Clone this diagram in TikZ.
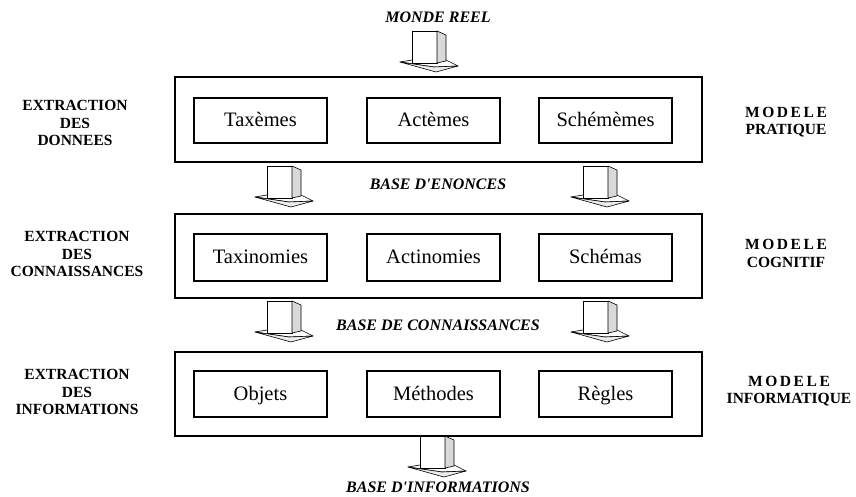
\documentclass[tikz,border=0pt]{standalone}
\usepackage{fontspec}
\setmainfont{Liberation Serif}
\begin{document}
\begin{tikzpicture}[x=1pt,y=-1pt,
  outerbox/.style={draw, line width=1.8pt, minimum width=527pt, inner sep=0pt},
  innerbox/.style={draw, line width=1.8pt, minimum width=133pt, inner sep=0pt, text height=16pt, text depth=4pt, font=\fontsize{20.5}{24}\selectfont},
  sidelabel/.style={align=center, inner sep=0pt, font=\bfseries\fontsize{15.5}{17.5}\selectfont},
  baselabel/.style={inner sep=0pt, font=\bfseries\itshape\fontsize{16}{19}\selectfont},
  fatarrow/.pic={
    \filldraw[fill=white, line width=0.6pt, line join=round] (-12,31) -- (0,29) -- (34,29) -- (46,35) -- (22,36) -- cycle;
    \filldraw[fill=gray!15, line width=0.6pt, line join=round] (-12,31) -- (22,36) -- (46,35) -- (24,41) -- cycle;
    \filldraw[fill=white, line width=0.6pt] (0,0) rectangle (25,32);
    \filldraw[fill=gray!30, line width=0.6pt, line join=round] (25,0) -- (34,4) -- (34,30) -- (25,32) -- cycle;
  }]
\useasboundingbox (0,0) rectangle (856,497);

% outer boxes
\node[outerbox, minimum height=85pt] (o1) at (438.5,119.5) {};
\node[outerbox, minimum height=84pt] (o2) at (438.5,256) {};
\node[outerbox, minimum height=84pt] (o3) at (438.5,394) {};

% inner boxes
\node[innerbox, minimum height=45pt] (taxemes) at (260.5,120.5) {Taxèmes};
\node[innerbox, minimum height=45pt] (actemes) at (433.5,120.5) {Actèmes};
\node[innerbox, minimum height=45pt] (schememes) at (605.5,120.5) {Schémèmes};
\node[innerbox, minimum height=47pt] (taxinomies) at (260.5,257.5) {Taxinomies};
\node[innerbox, minimum height=47pt] (actinomies) at (433.5,257.5) {Actinomies};
\node[innerbox, minimum height=47pt] (schemas) at (605.5,257.5) {Schémas};
\node[innerbox, minimum height=46pt] (objets) at (260.5,394) {Objets};
\node[innerbox, minimum height=46pt] (methodes) at (433.5,394) {Méthodes};
\node[innerbox, minimum height=46pt] (regles) at (605.5,394) {Règles};

% left labels
\node[sidelabel] (l1) at (75,123) {EXTRACTION\\DES\\DONNEES};
\node[sidelabel] (l2) at (77,254) {EXTRACTION\\DES\\CONNAISSANCES};
\node[sidelabel] (l3) at (77,392) {EXTRACTION\\DES\\INFORMATIONS};

% right labels
\node[sidelabel] (r1) at (786,122) {M\,O\,D\,E\,L\,E\\PRATIQUE};
\node[sidelabel] (r2) at (786,253.5) {M\,O\,D\,E\,L\,E\\COGNITIF};
\node[sidelabel] (r3) at (789,391) {M\,O\,D\,E\,L\,E\\INFORMATIQUE};

% base labels
\node[baselabel] (monde) at (438,17) {MONDE REEL};
\node[baselabel] (enonces) at (438,184) {BASE D\textquotesingle ENONCES};
\node[baselabel] (connaissances) at (438,325) {BASE DE CONNAISSANCES};
\node[baselabel] (informations) at (438,487) {BASE D\textquotesingle INFORMATIONS};

% arrows
\pic at (412,31) {fatarrow};
\pic at (267,166) {fatarrow};
\pic at (583,166) {fatarrow};
\pic at (267,301) {fatarrow};
\pic at (583,301) {fatarrow};
\pic at (420,436) {fatarrow};
\end{tikzpicture}
\end{document}
